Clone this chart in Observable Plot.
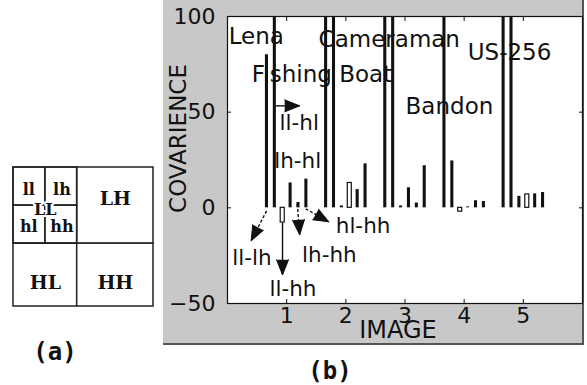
<!DOCTYPE html>
<html><head><meta charset="utf-8">
<script src="https://cdn.jsdelivr.net/npm/d3@7"></script>
<script src="https://cdn.jsdelivr.net/npm/@observablehq/plot@0.6"></script>
<style>
html,body{margin:0;padding:0;background:#fff;}
#root{position:relative;width:587px;height:385px;overflow:hidden;font-family:"DejaVu Sans",sans-serif;}
#panel{position:absolute;left:163px;top:0;width:419px;height:343px;background:#c8c8c8;border-right:2px solid #555;border-bottom:2px solid #555;}
#chart{position:absolute;left:0;top:0;}
#diagram{position:absolute;left:0;top:150px;}
.cap{position:absolute;font-family:"DejaVu Sans Mono",monospace;font-weight:bold;font-size:24px;transform:translate(-50%,-50%);color:#111;}
</style></head><body>
<div id="root"><div id="panel"></div><div id="chart"></div><div id="diagram"></div>
<div class="cap" style="left:55px;top:352px">(a)</div>
<div class="cap" style="left:330px;top:371px">(b)</div>
</div>
<script>
// ---- data ----
const images = ["Lena", "Fishing Boat", "Cameraman", "Bandon", "US-256"];
const series = ["ll-lh", "ll-hl", "ll-hh", "lh-hl", "lh-hh", "hl-hh"];
const llLh = [80, 130, 130, 130, 130];
const llHl = [130, 130, 130, 24.5, 130];
const llHh = [-7.7, 1, 1, -2, 6];
const lhHl = [13, 13, 10.5, 0.5, 7];
const lhHh = [2.8, 9.5, 2.5, 3.7, 7.3];
const hlHh = [15, 23, 22, 3.3, 8];
const xTicks = [1, 2, 3, 4, 5];
const yTicks = [-50, 0, 50, 100];
const xLabel = "IMAGE";
const yLabel = "COVARIENCE";
// image name annotations (data coords)
const imageLabelX = [0.02, 0.41, 1.54, 3.01, 4.06];
const imageLabelY = [89.4, 69.8, 87.8, 52.8, 81];
// subband pair annotations (data coords)
const pairLabelX = [0.08, 0.88, 0.71, 0.79, 1.26, 1.83];
const pairLabelY = [-26.4, 44.2, -42.6, 24.6, -24.6, -9.7];
// arrows: series, tail -> tip (data coords)
const arrowSeries = ["ll-lh", "ll-hl", "ll-hh", "lh-hh", "hl-hh"];
const arrowX1 = [0.66, 0.81, 0.93, 1.18, 1.32];
const arrowY1 = [-1.6, 53.3, -7.8, 2, -0.5];
const arrowX2 = [0.40, 1.22, 0.93, 1.22, 1.71];
const arrowY2 = [-17.2, 53.3, -35, -14.1, -7.3];
const arrowDashed = [true, false, false, true, true];
// diagram (a)
const quadrants = ["LL", "LH", "HL", "HH"];
const subbands = ["ll", "lh", "hl", "hh"];

// ---- build ----
const W = 587, H = 345, ML = 227, MR = 5, MT = 16, MB = 42;
const xDomain = [0, 6], yDomain = [-50, 100];
const kx = (W - ML - MR) / (xDomain[1] - xDomain[0]);
const ky = (H - MT - MB) / (yDomain[1] - yDomain[0]);
const values = [llLh, llHl, llHh, lhHl, lhHh, hlHh];
const groupW = 0.8, n = series.length;
const bars = [];
images.forEach((img, i) => series.forEach((s, j) => bars.push({
  image: img, series: s, value: values[j][i], pos: xTicks[i] + (j - (n - 1) / 2) * groupW / n
})));
const hollow = new Set(["Lena|ll-hh", "Fishing Boat|lh-hl", "Bandon|ll-hh", "US-256|lh-hl"]);
const isHollow = d => hollow.has(d.image + "|" + d.series);
const arrows = arrowSeries.map((s, i) => ({
  s, x1: arrowX1[i], y1: arrowY1[i], x2: arrowX2[i], y2: arrowY2[i], dashed: arrowDashed[i],
  angle: Math.atan2((arrowX2[i] - arrowX1[i]) * kx, (arrowY2[i] - arrowY1[i]) * ky) * 180 / Math.PI
}));
const imageLabels = images.map((t, i) => ({t, x: imageLabelX[i], y: imageLabelY[i]}));
const pairLabels = series.map((t, i) => ({t, x: pairLabelX[i], y: pairLabelY[i]}));
const blank = () => "";

const chart = Plot.plot({
  width: W, height: H, marginLeft: ML, marginRight: MR, marginTop: MT, marginBottom: MB,
  x: {domain: xDomain, label: null},
  y: {domain: yDomain, label: null},
  style: {background: "transparent", overflow: "visible", fontFamily: "DejaVu Sans", fontSize: "22px", color: "#111"},
  marks: [
    Plot.frame({fill: "white"}),
    Plot.rect(bars, {filter: d => !isHollow(d), x1: d => d.pos - 0.026, x2: d => d.pos + 0.026, y1: 0, y2: "value", fill: "#111", clip: true}),
    Plot.rect(bars, {filter: d => isHollow(d), x1: d => d.pos - 0.034, x2: d => d.pos + 0.034, y1: 0, y2: "value", fill: "white", stroke: "#111", strokeWidth: 1.2, clip: true}),
    Plot.link(arrows, {filter: d => !d.dashed, x1: "x1", y1: "y1", x2: "x2", y2: "y2", stroke: "#111", strokeWidth: 1.4}),
    Plot.link(arrows, {filter: d => d.dashed, x1: "x1", y1: "y1", x2: "x2", y2: "y2", stroke: "#111", strokeWidth: 1.4, strokeDasharray: "3,2"}),
    Plot.vector(arrows, {x: "x2", y: "y2", rotate: "angle", length: 15, r: 6, shape: "spike", anchor: "end", fill: "#111", stroke: "#111", strokeWidth: 1}),
    Plot.text(imageLabels, {x: "x", y: "y", text: "t", textAnchor: "start", lineAnchor: "middle", fontSize: 23, fill: "#111"}),
    Plot.text(pairLabels, {x: "x", y: "y", text: "t", textAnchor: "start", lineAnchor: "middle", fontSize: 21.5, fill: "#111"}),
    Plot.axisY(yTicks, {anchor: "left", tickSize: 0, tickPadding: 12, fontSize: 22, label: null}),
    Plot.axisY(yTicks, {anchor: "left", tickSize: -4, tickFormat: blank, label: null}),
    Plot.axisY(yTicks, {anchor: "right", tickSize: -4, tickFormat: blank, label: null}),
    Plot.axisX(xTicks, {anchor: "bottom", tickSize: 0, tickPadding: 4, fontSize: 22, label: null}),
    Plot.axisX(xTicks, {anchor: "bottom", tickSize: -4, tickFormat: blank, label: null}),
    Plot.axisX(xTicks, {anchor: "top", tickSize: -4, tickFormat: blank, label: null}),
    Plot.text([xLabel], {frameAnchor: "bottom", dx: -7, dy: 27, fontSize: 24, textAnchor: "middle", lineAnchor: "middle", fill: "#111"}),
    Plot.text([yLabel], {frameAnchor: "left", rotate: -90, dx: -49, dy: -21.5, fontSize: 23, textAnchor: "middle", lineAnchor: "middle", fill: "#111"}),
    Plot.frame({stroke: "#111", strokeWidth: 1.2})
  ]
});
document.getElementById("chart").appendChild(chart);

// diagram layout: split fractions of the square (columns / rows)
const splitX = 0.455, splitY = 0.548;
const cell = name => ({name, col: name[1].toUpperCase() === "H" ? 1 : 0, row: name[0].toUpperCase() === "H" ? 1 : 0});
const quads = quadrants.map(cell);
const subs = subbands.map(cell);
const cx1 = c => c ? splitX : 0, cx2 = c => c ? 1 : splitX;
const ry1 = r => r ? splitY : 0, ry2 = r => r ? 1 : splitY;
const diagram = Plot.plot({
  width: 165, height: 235, marginLeft: 13, marginRight: 12, marginTop: 17, marginBottom: 79,
  x: {domain: [0, 1]},
  y: {domain: [0, 1], reverse: true},
  axis: null,
  style: {background: "transparent", overflow: "visible", fontFamily: "DejaVu Serif", color: "#111"},
  marks: [
    Plot.rect(quads, {x1: d => cx1(d.col), x2: d => cx2(d.col), y1: d => ry1(d.row), y2: d => ry2(d.row), fill: "white", stroke: "#222", strokeWidth: 1.5}),
    Plot.rect(subs, {x1: d => d.col ? splitX / 2 : 0, x2: d => d.col ? splitX : splitX / 2, y1: d => d.row ? splitY / 2 : 0, y2: d => d.row ? splitY : splitY / 2, fill: "none", stroke: "#222", strokeWidth: 1.5}),
    Plot.text(quads.filter(d => d.name !== "LL"), {x: d => (cx1(d.col) + cx2(d.col)) / 2, y: d => (ry1(d.row) + ry2(d.row)) / 2 + (d.row ? 0.055 : -0.045), text: "name", fontSize: 19, fontWeight: "bold", fill: "#111"}),
    Plot.text(subs, {x: d => (d.col ? 0.76 : 0.24) * splitX, y: d => (d.row ? 0.78 : 0.3) * splitY, text: "name", fontSize: 16, fontWeight: "bold", fill: "#111", stroke: "white", strokeWidth: 3, paintOrder: "stroke"}),
    Plot.text(quads.filter(d => d.name === "LL"), {x: splitX / 2, y: splitY * 0.55, text: "name", fontSize: 16, fontWeight: "bold", fill: "#111", stroke: "white", strokeWidth: 4, paintOrder: "stroke"})
  ]
});
document.getElementById("diagram").appendChild(diagram);
</script>
</body></html>
